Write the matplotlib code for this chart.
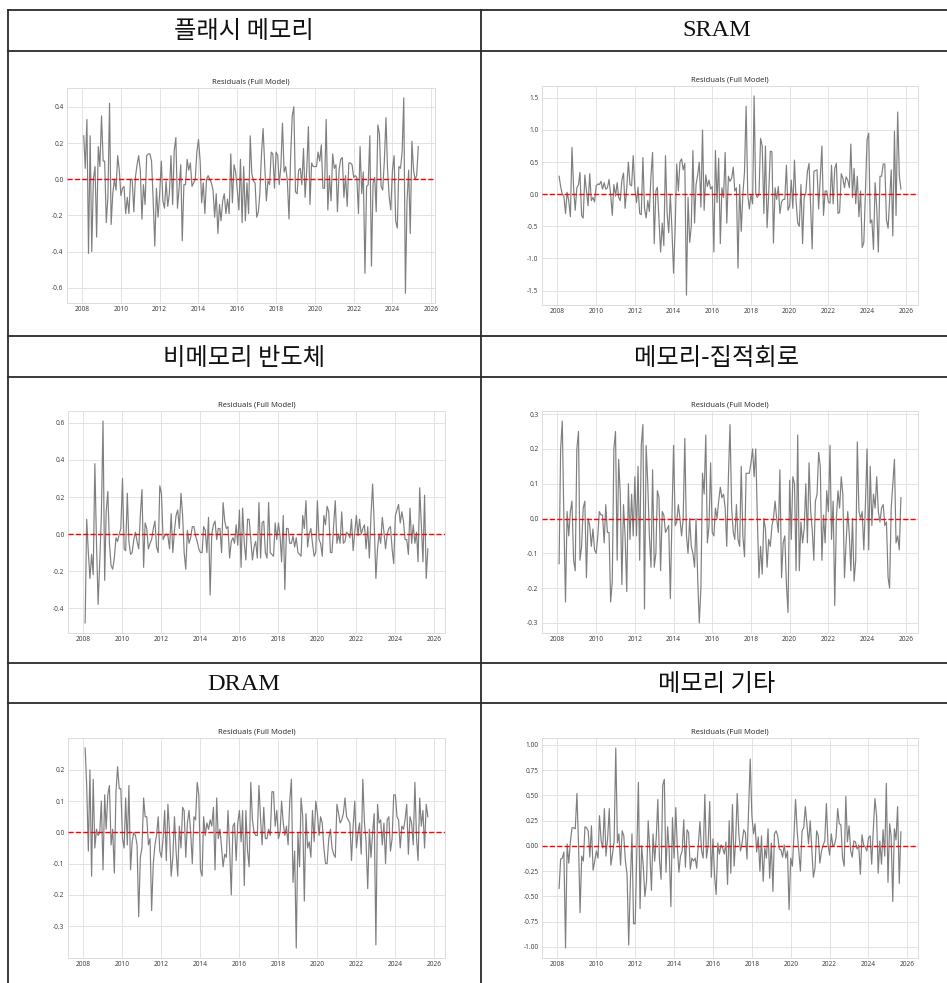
import matplotlib
matplotlib.use("Agg")
import matplotlib.pyplot as plt
from matplotlib.lines import Line2D
import pandas as pd

plt.rcParams['font.family'] = ['Noto Sans', 'Noto Sans CJK KR', 'DejaVu Sans']
plt.rcParams['axes.unicode_minus'] = False

# Monthly residual series, starting Feb 2008
start_month = "2008-02-01"

flash = [0.24, 0.06, 0.33, -0.41, 0.24, -0.40, 0.0, 0.07, -0.32, 0.18, 0.07, 0.35, 0.10, 0.10, -0.24, -0.10, 0.42, -0.25,
         -0.08, 0.0, -0.06, 0.13, 0.05, -0.09, -0.05, -0.04, -0.19, -0.10, -0.19, 0.0, 0.0, -0.18, 0.01, 0.08, 0.13, 0.05,
         -0.22, -0.03, -0.14, 0.13, 0.14, 0.14, 0.10, -0.12, -0.37, -0.05, -0.21, -0.08, 0.10, -0.12, -0.16, -0.01, -0.15,
         -0.08, 0.13, -0.14, 0.16, 0.23, -0.16, -0.05, 0.08, -0.34, -0.03, -0.03, 0.11, 0.05, 0.09, -0.04, -0.02, 0.00, 0.15,
         0.22, 0.10, -0.13, -0.02, -0.19, 0.0, 0.02, 0.0, -0.02, -0.06, -0.21, -0.08, -0.30, -0.14, -0.23, -0.12, -0.08, -0.19,
         -0.11, -0.19, 0.14, -0.13, 0.08, 0.04, -0.06, -0.17, 0.11, -0.24, 0.07, -0.23, -0.02, -0.19, 0.24, 0.03, -0.01, -0.02,
         -0.21, -0.18, -0.08, 0.14, 0.28, 0.08, -0.12, -0.01, -0.03, 0.15, 0.14, -0.05, 0.15, 0.13, -0.03, 0.07, 0.31, 0.04,
         0.07, -0.01, -0.22, 0.12, 0.35, 0.40, -0.07, -0.08, 0.05, 0.06, -0.03, 0.17, -0.10, 0.05, 0.29, -0.14, 0.09, 0.07,
         0.07, 0.07, 0.15, 0.10, 0.19, -0.05, -0.05, 0.33, -0.17, 0.02, -0.12, 0.14, 0.06, 0.08, -0.18, 0.05, 0.11, 0.12,
         -0.10, 0.02, -0.15, 0.09, 0.09, 0.08, 0.01, 0.02, 0.01, -0.19, 0.18, -0.08, 0.04, -0.52, -0.04, -0.03, 0.24, -0.48,
         -0.02, 0.01, -0.18, 0.30, 0.25, -0.04, -0.06, 0.10, 0.34, 0.05, -0.10, -0.17, 0.05, 0.13, -0.23, -0.27, 0.07, 0.06,
         0.15, 0.45, -0.63, -0.12, 0.05, -0.30, 0.21, 0.05, 0.0, 0.02, 0.18]

sram = [0.28, 0.12, 0.0, -0.03, -0.30, 0.03, -0.10, -0.35, 0.73, 0.10, -0.25, 0.10, 0.15, 0.34, -0.33, -0.37, 0.30, 0.05,
        -0.18, 0.32, -0.10, -0.05, -0.12, 0.13, 0.16, 0.15, 0.20, 0.08, 0.18, 0.08, 0.10, 0.23, 0.0, -0.33, 0.15, -0.03,
        0.18, -0.05, -0.10, 0.22, 0.33, -0.22, 0.10, 0.50, 0.15, 0.13, 0.60, 0.10, -0.13, 0.11, -0.30, -0.32, 0.57, -0.22,
        -0.37, -0.10, -0.27, 0.30, 0.65, -0.77, 0.05, 0.11, -0.42, -0.90, -0.45, -0.80, 0.60, -0.30, -0.60, 0.00, -0.55,
        -1.23, -0.50, 0.47, 0.05, 0.50, 0.55, 0.38, 0.48, -1.57, -0.05, -0.75, -0.50, 0.68, -0.45, 0.15, 0.30, 0.50, -0.20,
        1.00, -0.25, 0.30, 0.12, 0.22, 0.08, 0.12, -0.90, 0.68, -0.13, 0.56, -0.77, 0.10, -0.05, 0.65, -0.45, 0.28, 0.20,
        0.25, 0.42, 0.05, 0.10, -1.15, 0.15, -0.58, 0.0, 0.35, 1.37, 0.0, -0.23, 0.0, -0.15, 1.53, 0.0, -0.05, 0.0, 0.87,
        0.75, -0.30, 0.75, -0.52, 0.0, 0.67, 0.66, -0.76, 0.10, -0.08, 0.12, -0.30, -0.12, -0.08, -0.08, 0.45, -0.25,
        -0.18, 0.22, -0.22, 0.53, -0.10, -0.45, -0.50, 0.15, -0.77, -0.05, 0.02, 0.35, 0.48, -0.20, -0.85, 0.35, 0.37,
        0.38, -0.23, 0.25, 0.75, -0.33, 0.05, 0.05, -0.12, -0.14, 0.45, -0.15, 0.40, 0.48, -0.30, -0.28, 0.32, 0.25, 0.10,
        0.27, 0.22, 0.10, 0.78, -0.05, 0.40, -0.15, 0.28, -0.35, 0.05, -0.83, -0.75, 0.05, 0.85, 0.95, -0.45, -0.40, -0.86,
        0.18, -0.20, -0.90, 0.28, 0.28, 0.47, 0.47, -0.40, -0.53, -0.10, 0.38, -0.65, 0.98, -0.33, 1.28, 0.28, 0.08]

non_memory = [-0.48, 0.08, -0.10, -0.24, -0.11, -0.22, 0.38, -0.05, -0.38, -0.15, 0.10, 0.61, -0.25, 0.12, 0.23, -0.05,
              -0.17, -0.19, -0.13, -0.02, -0.04, 0.0, 0.03, 0.30, -0.08, -0.09, 0.22, -0.04, -0.11, -0.10, -0.03, 0.01,
              -0.04, -0.08, 0.10, 0.24, -0.18, 0.06, 0.03, -0.08, -0.05, -0.03, 0.03, 0.07, -0.07, -0.10, 0.26, 0.22,
              -0.03, -0.01, 0.0, -0.01, -0.08, 0.11, -0.10, 0.02, 0.10, 0.13, 0.03, 0.22, 0.10, -0.10, -0.19, 0.02, -0.05,
              -0.02, 0.04, 0.04, -0.01, -0.04, -0.08, -0.10, -0.10, 0.04, 0.02, -0.10, 0.09, -0.33, 0.0, 0.05, 0.07, -0.03,
              0.03, 0.03, -0.10, 0.17, 0.07, 0.03, 0.04, -0.13, -0.04, -0.02, -0.05, 0.05, -0.06, 0.13, -0.18, 0.14, -0.05,
              -0.14, 0.08, 0.08, -0.03, -0.14, -0.07, -0.04, -0.13, 0.17, -0.13, 0.06, 0.07, -0.10, -0.13, 0.17, -0.10,
              -0.11, -0.12, 0.06, -0.03, 0.06, -0.01, -0.15, 0.10, -0.30, 0.03, 0.03, -0.05, -0.05, -0.01, -0.07, -0.02,
              -0.10, -0.11, -0.12, 0.10, 0.03, 0.18, -0.07, 0.0, 0.03, -0.05, -0.12, -0.10, 0.18, -0.03, -0.05, -0.12, 0.10,
              0.05, 0.15, 0.12, -0.10, -0.10, 0.05, 0.18, -0.05, 0.0, -0.05, 0.12, -0.05, -0.04, 0.01, 0.0, -0.02, 0.08,
              -0.09, 0.01, 0.10, -0.01, 0.08, 0.0, 0.03, 0.05, -0.08, 0.04, -0.13, 0.10, 0.27, 0.05, -0.24, -0.08, 0.0,
              -0.05, 0.09, 0.01, -0.08, 0.0, 0.03, 0.04, -0.08, -0.16, 0.10, 0.13, 0.16, 0.06, 0.12, 0.07, -0.03, -0.03,
              -0.11, 0.14, -0.05, 0.05, -0.05, 0.01, -0.15, 0.25, 0.05, -0.15, 0.21, -0.24, -0.08]

memory_ic = [-0.13, 0.20, 0.28, 0.0, -0.24, 0.02, -0.05, 0.02, 0.05, -0.12, -0.15, 0.20, 0.25, -0.12, -0.08, 0.03, 0.05,
             -0.17, 0.0, -0.02, -0.08, -0.03, -0.09, -0.10, -0.05, 0.02, 0.01, 0.01, -0.07, 0.04, -0.04, -0.04, -0.24,
             -0.18, 0.20, 0.25, -0.12, 0.17, 0.07, -0.19, 0.04, -0.05, -0.21, 0.10, -0.06, 0.07, -0.05, 0.12, -0.05, 0.15,
             -0.12, 0.21, 0.27, -0.26, 0.21, 0.10, -0.05, -0.14, 0.14, -0.14, -0.10, 0.08, 0.06, -0.15, 0.02, 0.01, -0.04,
             -0.03, -0.02, -0.23, 0.0, 0.21, -0.02, -0.01, 0.04, 0.0, -0.05, 0.0, 0.23, -0.05, -0.10, 0.0, -0.08, -0.10,
             -0.14, 0.0, -0.17, -0.30, -0.20, 0.13, 0.07, 0.24, -0.07, -0.02, 0.16, -0.04, -0.05, 0.03, 0.0, 0.05, 0.09,
             0.06, 0.07, 0.03, -0.08, 0.12, 0.27, 0.03, -0.04, -0.06, 0.04, -0.06, -0.08, 0.15, -0.05, -0.11, 0.13, 0.13,
             0.13, 0.16, 0.20, 0.12, 0.20, 0.0, -0.17, -0.08, -0.16, 0.0, -0.03, -0.14, -0.06, -0.08, -0.02, 0.0, 0.05,
             0.0, -0.04, 0.14, -0.17, -0.07, -0.05, -0.19, -0.27, 0.11, -0.06, 0.12, 0.10, -0.15, 0.24, -0.15, -0.01,
             -0.07, -0.03, 0.10, -0.07, 0.16, 0.02, -0.03, -0.12, 0.05, 0.07, 0.19, 0.15, -0.12, 0.01, -0.07, 0.08, 0.02,
             0.21, -0.06, 0.05, -0.25, 0.0, 0.08, 0.03, 0.12, 0.07, -0.17, -0.07, 0.02, -0.05, -0.15, 0.0, -0.18, -0.12,
             0.22, 0.02, 0.0, 0.02, -0.09, 0.04, 0.20, -0.09, 0.15, -0.02, 0.07, 0.03, 0.12, 0.02, -0.01, 0.03, 0.04,
             -0.02, -0.01, -0.17, -0.20, 0.03, 0.10, 0.17, -0.07, -0.05, -0.09, 0.06]

dram = [0.27, 0.15, -0.06, 0.20, -0.14, 0.17, -0.05, 0.01, -0.01, 0.0, 0.10, -0.12, 0.12, 0.01, 0.12, 0.15, -0.04, 0.01,
        -0.13, 0.13, 0.21, 0.14, 0.14, -0.02, -0.05, 0.11, -0.04, 0.15, -0.12, -0.03, 0.0, -0.01, -0.04, -0.27, -0.08,
        -0.05, 0.11, 0.05, 0.05, -0.04, -0.02, -0.25, -0.10, -0.04, -0.01, 0.05, -0.06, -0.08, -0.02, 0.07, -0.09, 0.09,
        0.0, -0.14, -0.08, 0.05, -0.06, -0.14, 0.02, -0.05, 0.08, 0.07, -0.08, 0.03, 0.07, 0.0, -0.10, 0.05, 0.04, 0.16,
        0.12, -0.12, -0.14, 0.05, -0.01, 0.03, 0.01, 0.04, 0.02, 0.08, -0.12, 0.11, -0.02, 0.01, -0.05, -0.11, -0.07,
        -0.08, 0.07, -0.05, -0.20, 0.02, 0.03, -0.09, 0.03, 0.07, -0.03, 0.07, -0.17, 0.07, -0.06, -0.11, 0.16, 0.04,
        0.0, -0.01, -0.01, 0.15, 0.04, -0.04, 0.08, -0.02, -0.02, 0.01, -0.01, 0.13, 0.13, 0.02, 0.07, -0.02, 0.0, 0.10,
        0.03, -0.01, 0.02, -0.04, 0.10, 0.17, -0.16, -0.06, -0.37, 0.0, -0.11, 0.11, 0.05, -0.22, 0.06, -0.05, -0.03,
        -0.08, 0.07, -0.03, 0.10, 0.06, -0.01, 0.05, 0.03, -0.05, -0.10, -0.10, -0.02, 0.01, -0.05, -0.07, -0.08, 0.09,
        0.06, 0.03, 0.04, 0.06, 0.11, 0.05, 0.04, 0.03, -0.09, 0.02, 0.10, -0.05, 0.0, 0.03, -0.07, 0.17, 0.03, -0.03,
        -0.18, 0.01, -0.08, 0.0, 0.06, -0.36, 0.09, 0.03, 0.04, -0.04, 0.03, -0.10, 0.04, 0.05, -0.06, -0.02, 0.12, 0.12,
        0.05, 0.04, -0.05, 0.02, 0.01, 0.04, 0.09, -0.07, 0.05, 0.03, -0.04, 0.16, -0.02, -0.09, 0.11, 0.02, 0.07, -0.05,
        0.09, 0.05]

memory_other = [-0.42, -0.13, -0.12, -0.06, -1.01, 0.02, -0.17, 0.05, 0.18, 0.18, 0.17, 0.52, 0.0, -0.66, -0.10, -0.15,
                0.19, 0.18, 0.15, -0.11, 0.20, -0.24, -0.15, -0.05, -0.12, 0.30, 0.05, -0.02, 0.37, -0.10, 0.08, 0.37,
                -0.19, -0.08, 0.05, 0.97, 0.03, 0.12, -0.19, 0.15, 0.10, -0.15, -0.28, -0.98, -0.37, 0.12, -0.77, -0.77,
                -0.05, 0.63, -0.62, 0.0, -0.20, -0.50, -0.35, 0.25, -0.05, -0.44, 0.12, -0.15, 0.10, 0.46, -0.14, -0.33,
                0.60, 0.66, -0.26, 0.19, -0.05, -0.60, 0.28, -0.12, 0.38, 0.0, -0.26, -0.10, -0.05, 0.26, -0.21, 0.16,
                0.13, -0.23, -0.12, -0.15, -0.12, -0.22, 0.02, 0.24, -0.05, -0.12, 0.51, -0.12, 0.0, 0.44, -0.31, 0.07,
                -0.30, -0.48, 0.03, -0.08, 0.01, -0.02, -0.08, 0.04, -0.38, 0.25, -0.27, 0.41, -0.20, 0.04, 0.52, 0.12,
                -0.05, 0.03, 0.16, 0.13, -0.13, 0.38, 0.86, 0.30, 0.12, 0.22, -0.06, 0.09, -0.25, 0.10, -0.35, -0.02,
                -0.12, 0.17, -0.32, 0.03, -0.45, 0.12, 0.15, 0.10, -0.03, -0.04, -0.11, 0.01, -0.12, -0.05, -0.63, -0.12,
                -0.20, 0.10, 0.46, 0.15, -0.05, -0.25, 0.15, 0.18, 0.39, 0.21, 0.02, 0.25, -0.05, -0.31, -0.22, 0.15,
                0.10, -0.17, -0.05, 0.01, 0.05, 0.42, 0.02, -0.09, 0.12, 0.0, 0.01, 0.08, 0.37, 0.22, 0.21, -0.12, -0.20,
                0.49, 0.04, 0.20, -0.05, -0.11, 0.05, 0.04, -0.03, 0.01, -0.28, 0.11, 0.01, -0.01, -0.05, 0.08, 0.10,
                -0.18, 0.17, 0.47, 0.30, -0.27, 0.05, -0.18, 0.16, -0.10, 0.62, -0.36, 0.22, 0.10, -0.55, 0.17, 0.06,
                0.39, -0.37, 0.14]

titles = ["플래시 메모리", "SRAM", "비메모리 반도체", "메모리-집적회로", "DRAM", "메모리 기타"]
series = [flash, sram, non_memory, memory_ic, dram, memory_other]
yticks = [
    [-0.6, -0.4, -0.2, 0.0, 0.2, 0.4],
    [-1.5, -1.0, -0.5, 0.0, 0.5, 1.0, 1.5],
    [-0.4, -0.2, 0.0, 0.2, 0.4, 0.6],
    [-0.3, -0.2, -0.1, 0.0, 0.1, 0.2, 0.3],
    [-0.3, -0.2, -0.1, 0.0, 0.1, 0.2],
    [-1.0, -0.75, -0.5, -0.25, 0.0, 0.25, 0.5, 0.75, 1.0],
]
ytick_fmt = ["{:.1f}", "{:.1f}", "{:.1f}", "{:.1f}", "{:.1f}", "{:.2f}"]
year_ticks = list(range(2008, 2027, 2))
plot_title = "Residuals (Full Model)"

W, H = 947, 983
fig = plt.figure(figsize=(W / 100, H / 100), dpi=100)
fig.patch.set_facecolor("white")

# table grid (pixel coordinates, y measured from the top)
grid_color = "#2a2a2a"
left_x, mid_x = 8, 481
h_lines = [10, 51, 336, 377, 663, 703]
for y in h_lines:
    fig.add_artist(Line2D([left_x / W, 1.0], [1 - y / H, 1 - y / H], color=grid_color, lw=1.3,
                          transform=fig.transFigure))
for x in (left_x, mid_x):
    fig.add_artist(Line2D([x / W, x / W], [1 - 10 / H, 0.0], color=grid_color, lw=1.3,
                          transform=fig.transFigure))

# header cells
header_centers = [(244, 31), (717, 31), (244, 358), (717, 358), (244, 684), (717, 684)]
for title, (cx, cy) in zip(titles, header_centers):
    if title.isascii():
        fig.text(cx / W, 1 - cy / H, title, ha="center", va="center", fontsize=17.5,
                 family=["Liberation Serif", "DejaVu Serif"], color="#111")
    else:
        fig.text(cx / W, 1 - cy / H, title, ha="center", va="center", fontsize=17.5,
                 family=["Noto Sans CJK KR", "DejaVu Sans"], color="#111")

# axes boxes: (left, top, right, bottom) in pixels
boxes = [(67, 88, 435, 303), (542, 86, 918, 305),
         (68, 411, 445, 633), (542, 411, 918, 633),
         (68, 738, 445, 958), (542, 738, 918, 958)]

for vals, (l, t, r, b), yt, fmt in zip(series, boxes, yticks, ytick_fmt):
    ax = fig.add_axes([l / W, 1 - b / H, (r - l) / W, (b - t) / H])
    dates = pd.date_range(start_month, periods=len(vals), freq="MS")
    ax.plot(dates, vals, color="#7f7f7f", lw=0.85, zorder=3)
    ax.axhline(0, color="red", ls="--", lw=1.0, zorder=4)
    ax.set_title(plot_title, fontsize=5.5, color="#333", pad=3)
    ax.set_xticks([pd.Timestamp(f"{y}-01-01") for y in year_ticks])
    ax.set_xticklabels([str(y) for y in year_ticks])
    ax.set_yticks(yt)
    ax.set_yticklabels([fmt.format(v) for v in yt])
    ax.grid(True, color="#e3e3e3", lw=0.7, zorder=0)
    ax.set_axisbelow(True)
    for sp in ax.spines.values():
        sp.set_color("#dcdcdc")
        sp.set_linewidth(0.7)
    ax.tick_params(length=0, labelsize=4.7, labelcolor="#444", pad=2.5)

fig.savefig("out.png", dpi=100, facecolor="white")
